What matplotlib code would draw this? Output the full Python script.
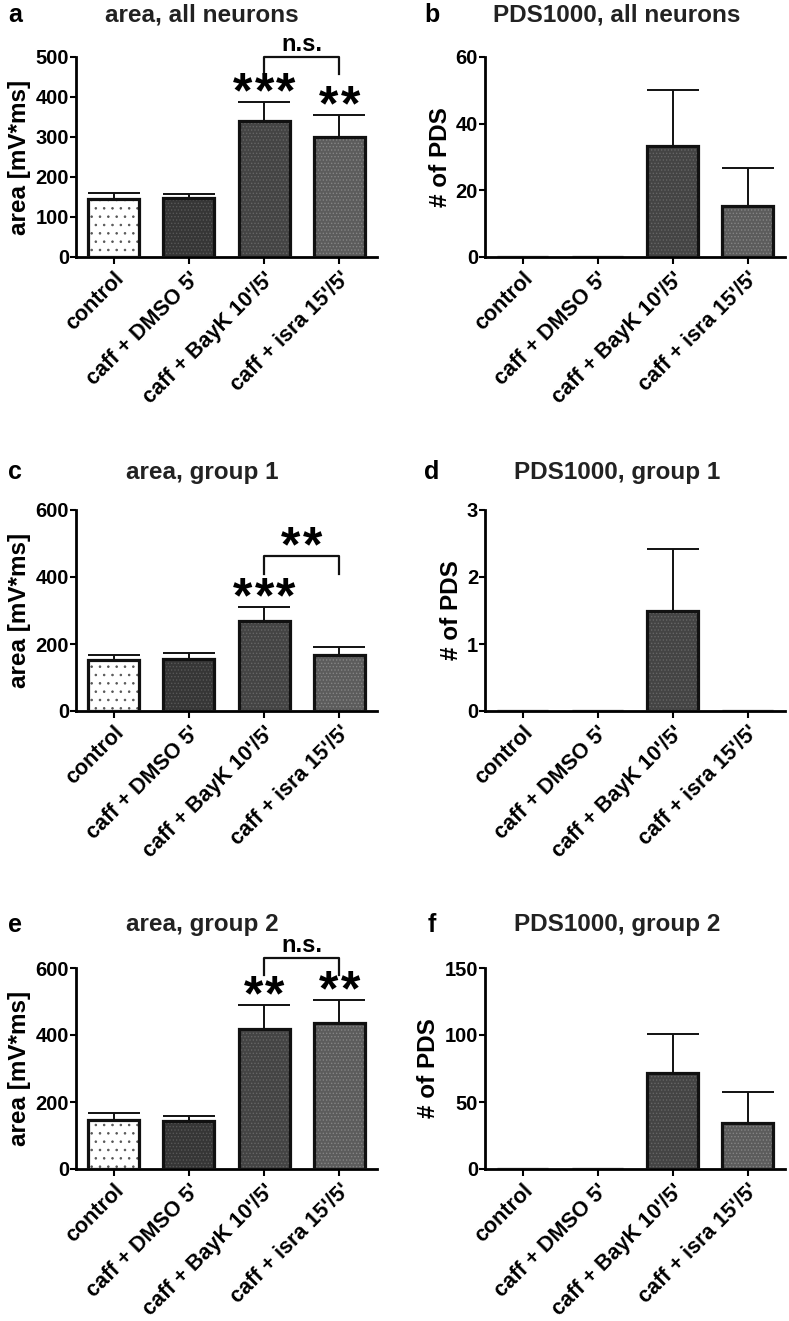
import numpy as np
import matplotlib
matplotlib.use('Agg')
import matplotlib.pyplot as plt
import matplotlib.transforms as mtransforms

plt.rcParams['font.family'] = ['Liberation Sans', 'DejaVu Sans']
plt.rcParams['font.weight'] = 'bold'
plt.rcParams['hatch.linewidth'] = 0.6

# 数据
groups = ['control', "caff + DMSO 5'", "caff + BayK 10'/5'", "caff + isra 15'/5'"]

area_all = [145, 147, 341, 301]
area_all_err = [14, 10, 46, 54]
pds_all = [0, 0, 33.4, 15.4]
pds_all_err = [0, 0, 16.7, 11.2]

area_g1 = [152, 155, 268, 167]
area_g1_err = [15, 19, 42, 25]
pds_g1 = [0, 0, 1.5, 0]
pds_g1_err = [0, 0, 0.92, 0]

area_g2 = [147, 143, 417, 436]
area_g2_err = [21, 14, 72, 67]
pds_g2 = [0, 0, 71.8, 34.2]
pds_g2_err = [0, 0, 28.9, 23.1]

# 样式
face_colors = ['white', '#363636', '#444444', '#5c5c5c']
hatch_colors = ['#555555', '#585858', '#666666', '#858585']
hatches = ['..', '.....', '.....', '.....']
STAR_FS = 36
STAR_STEP = 15.6

W, H = 789, 1321
fig = plt.figure(figsize=(W / 100, H / 100), dpi=100)
label_shift = mtransforms.ScaledTranslation(-6 / 100, -3 / 100, fig.dpi_scale_trans)


def add_ax(left, top, right, bottom):
    return fig.add_axes([left / W, 1 - bottom / H, (right - left) / W, (bottom - top) / H])


def draw_panel(ax, vals, errs, ylim, yticks, ylabel):
    x = np.arange(len(groups))
    ax.bar(x, vals, width=0.68, color=face_colors, linewidth=0, zorder=2)
    for i in range(len(x)):
        if vals[i] > 0:
            ax.bar(x[i], vals[i], width=0.68, color='none', edgecolor=hatch_colors[i],
                   hatch=hatches[i], linewidth=0, zorder=2)
    ax.bar(x, vals, width=0.68, fill=False, edgecolor='#111111', linewidth=2.3, zorder=3)
    for i in range(len(x)):
        if errs[i] > 0:
            ax.errorbar(x[i], vals[i], yerr=[[0], [errs[i]]], fmt='none', ecolor='#111111',
                        elinewidth=1.4, capsize=19, capthick=1.4, zorder=1)
    ax.set_xlim(-0.5, 3.5)
    ax.set_ylim(*ylim)
    ax.set_yticks(yticks)
    ax.set_xticks(x)
    ax.set_xticklabels(groups, rotation=45, ha='right', rotation_mode='anchor',
                       fontsize=15.5, fontweight='bold')
    for lab in ax.get_xticklabels():
        lab.set_transform(lab.get_transform() + label_shift)
    ax.tick_params(axis='y', labelsize=14.5, width=1.5, length=4, pad=1)
    ax.tick_params(axis='x', width=1.5, length=5, pad=3)
    for lab in ax.get_yticklabels():
        lab.set_fontweight('bold')
    ax.spines['top'].set_visible(False)
    ax.spines['right'].set_visible(False)
    ax.spines['left'].set_linewidth(2)
    ax.spines['bottom'].set_linewidth(2)
    ax.set_ylabel(ylabel, fontsize=17.5, fontweight='bold', labelpad=3)


def star_text(ax, x, y, n, dy):
    # 每颗星单独放, 间距和参考图一致
    for k in range(n):
        dx = (k - (n - 1) / 2) * STAR_STEP
        ax.annotate('*', (x, y), xytext=(dx, dy), textcoords='offset points',
                    ha='center', va='baseline', fontsize=STAR_FS, fontweight='bold',
                    annotation_clip=False)


def stars(ax, i, vals, errs, n):
    star_text(ax, i, vals[i] + errs[i], n, -3.5)


def bracket(ax, y_top, y_leg, txt):
    ax.plot([2, 2, 3, 3], [y_leg, y_top, y_top, y_leg], color='#111111', lw=1.6,
            clip_on=False)
    if txt == 'n.s.':
        ax.annotate(txt, (2.5, y_top), xytext=(0, 4), textcoords='offset points',
                    ha='center', va='baseline', fontsize=17, fontweight='bold',
                    annotation_clip=False)
    else:
        star_text(ax, 2.5, y_top, len(txt), -4)


# 位置
rows = [(57, 257), (510, 711), (968, 1169)]
left_x = (76, 377)
right_x = (485, 785)

ax_a = add_ax(left_x[0], rows[0][0], left_x[1], rows[0][1])
ax_b = add_ax(right_x[0], rows[0][0], right_x[1], rows[0][1])
ax_c = add_ax(left_x[0], rows[1][0], left_x[1], rows[1][1])
ax_d = add_ax(right_x[0], rows[1][0], right_x[1], rows[1][1])
ax_e = add_ax(left_x[0], rows[2][0], left_x[1], rows[2][1])
ax_f = add_ax(right_x[0], rows[2][0], right_x[1], rows[2][1])

draw_panel(ax_a, area_all, area_all_err, (0, 500), [0, 100, 200, 300, 400, 500], 'area [mV*ms]')
draw_panel(ax_b, pds_all, pds_all_err, (0, 60), [0, 20, 40, 60], '# of PDS')
draw_panel(ax_c, area_g1, area_g1_err, (0, 600), [0, 200, 400, 600], 'area [mV*ms]')
draw_panel(ax_d, pds_g1, pds_g1_err, (0, 3), [0, 1, 2, 3], '# of PDS')
draw_panel(ax_e, area_g2, area_g2_err, (0, 600), [0, 200, 400, 600], 'area [mV*ms]')
draw_panel(ax_f, pds_g2, pds_g2_err, (0, 150), [0, 50, 100, 150], '# of PDS')

# 显著性
stars(ax_a, 2, area_all, area_all_err, 3)
stars(ax_a, 3, area_all, area_all_err, 2)
bracket(ax_a, 501, 457, 'n.s.')

stars(ax_c, 2, area_g1, area_g1_err, 3)
bracket(ax_c, 463, 408, '**')

stars(ax_e, 2, area_g2, area_g2_err, 2)
stars(ax_e, 3, area_g2, area_g2_err, 2)
bracket(ax_e, 630, 578, 'n.s.')

# 标题
titles = [('a', 'area, all neurons', 15, 202),
          ('b', 'PDS1000, all neurons', 15, 617),
          ('c', 'area, group 1', 472, 202),
          ('d', 'PDS1000, group 1', 472, 617),
          ('e', 'area, group 2', 925, 202),
          ('f', 'PDS1000, group 2', 925, 617)]
for letter, title, ty, tx in titles:
    lx = 15 if tx < 400 else 432
    fig.text(lx / W, 1 - ty / H, letter, ha='center', va='center', fontsize=18, fontweight='bold')
    fig.text(tx / W, 1 - ty / H, title, ha='center', va='center', fontsize=17.5, fontweight='bold',
             color='#222222')

fig.savefig('out.png', dpi=100)
